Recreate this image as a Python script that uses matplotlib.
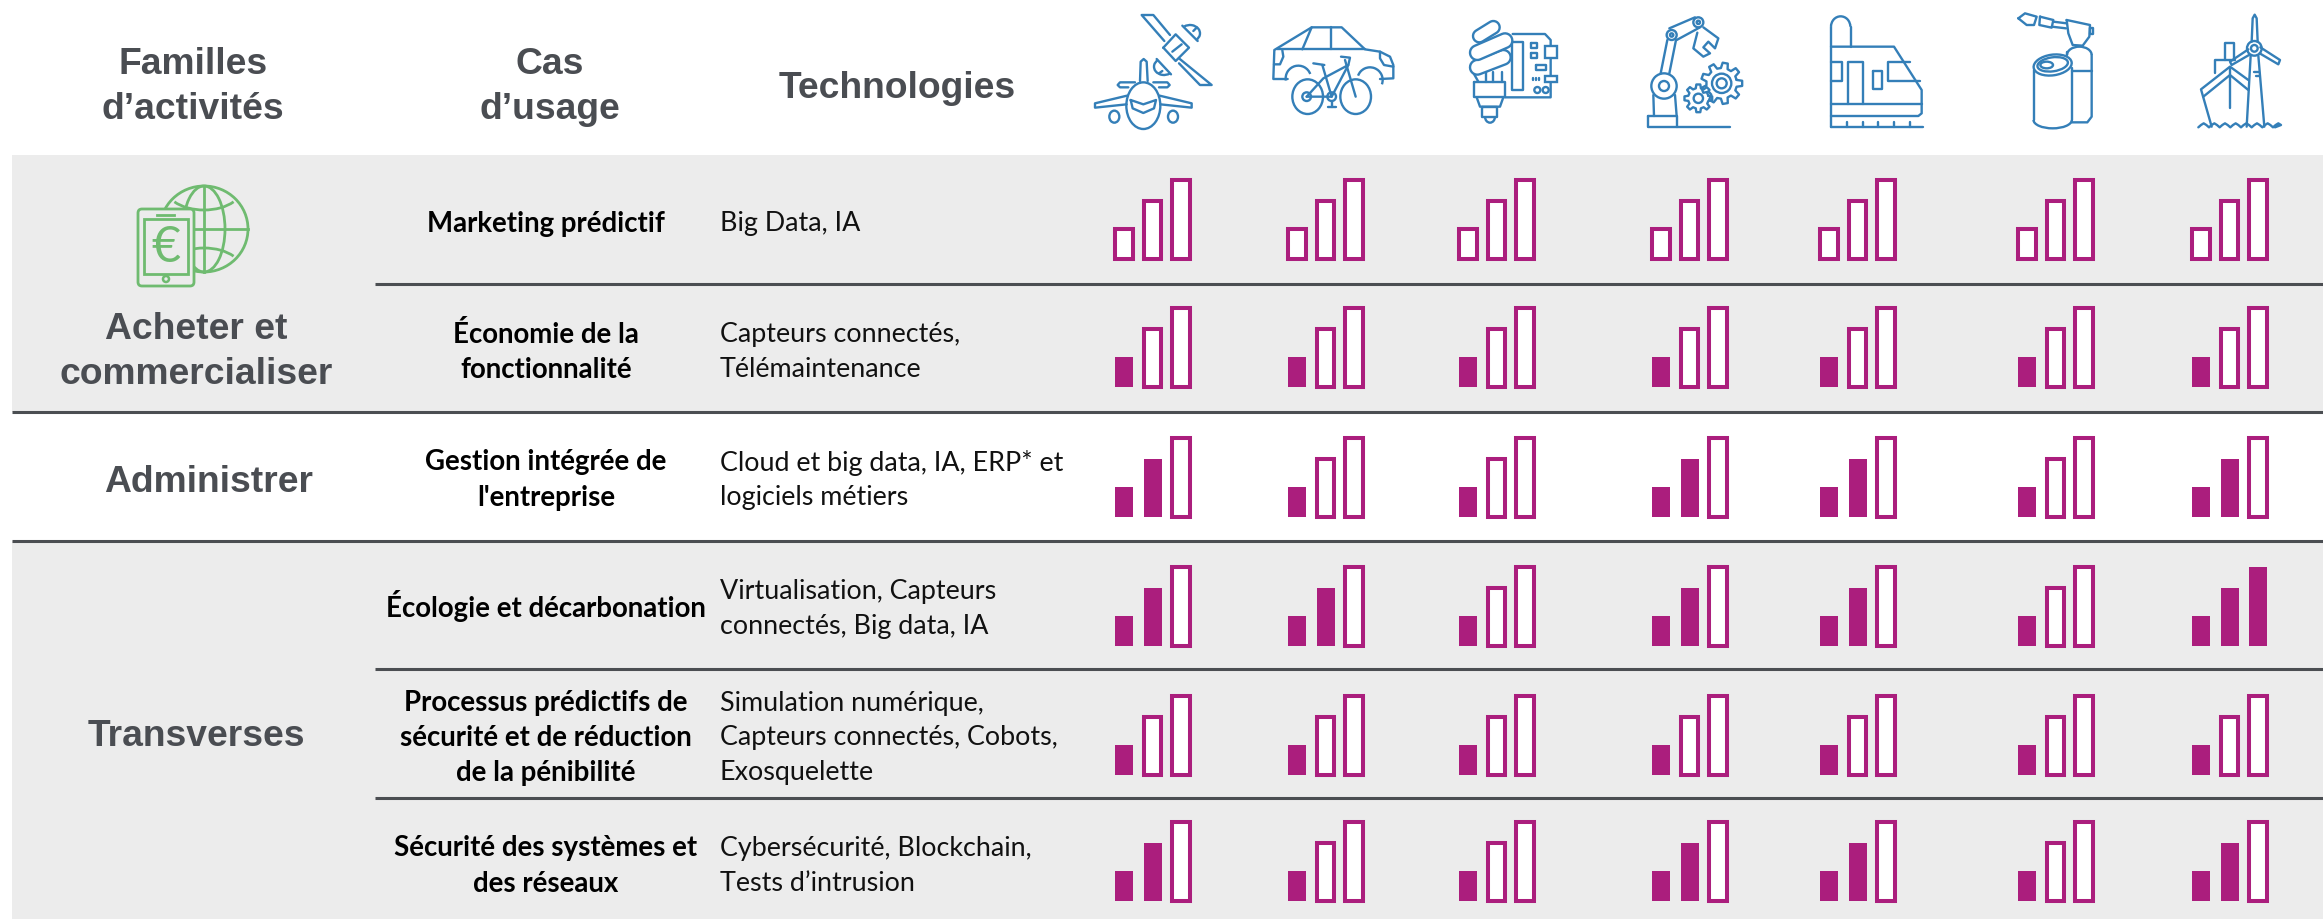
import numpy as np
import matplotlib
matplotlib.use('Agg')
import matplotlib.pyplot as plt
from matplotlib.patches import Rectangle, Ellipse, Polygon, Arc, FancyBboxPatch

# table content
familles = ["Acheter et\ncommercialiser", "Administrer", "Transverses"]
cas_usage = ["Marketing prédictif",
             "Économie de la\nfonctionnalité",
             "Gestion intégrée de\nl'entreprise",
             "Écologie et décarbonation",
             "Processus prédictifs de\nsécurité et de réduction\nde la pénibilité",
             "Sécurité des systèmes et\ndes réseaux"]
technos = ["Big Data, IA",
           "Capteurs connectés,\nTélémaintenance",
           "Cloud et big data, IA, ERP* et\nlogiciels métiers",
           "Virtualisation, Capteurs\nconnectés, Big data, IA",
           "Simulation numérique,\nCapteurs connectés, Cobots,\nExosquelette",
           "Cybersécurité, Blockchain,\nTests d’intrusion"]
# number of filled bars, one list per use case, one value per sector
marketing = [0, 0, 0, 0, 0, 0, 0]
economie = [1, 1, 1, 1, 1, 1, 1]
gestion = [2, 1, 1, 2, 2, 1, 2]
ecologie = [2, 2, 1, 2, 2, 1, 3]
processus = [1, 1, 1, 1, 1, 1, 1]
securite = [2, 1, 1, 2, 2, 1, 2]
niveaux = [marketing, economie, gestion, ecologie, processus, securite]

# geometry, in pixels of the reference
bar_h = [30, 58, 79]
col_x = [1124, 1297, 1468, 1661, 1829, 2027, 2201]
row_base = [259, 387, 517, 646, 775, 901]
case_y = [224, 352, 480, 606, 738, 866]
tech_y = [224, 352, 480, 609, 738, 866]

GRIS = '#ececec'
TRAIT = '#4b4e52'
TXT = '#4a4d52'
MAUVE = '#ab1e7d'
BLEU = '#347fb8'
VERT = '#6fbb70'

fig = plt.figure(figsize=(23.23, 9.19), dpi=100)
ax = fig.add_axes([0, 0, 1, 1])
ax.set_xlim(0, 2323)
ax.set_ylim(919, 0)
ax.axis('off')

ax.add_patch(Rectangle((12, 155), 2311, 257, fc=GRIS, ec='none', zorder=0))
ax.add_patch(Rectangle((12, 541), 2311, 378, fc=GRIS, ec='none', zorder=0))
for x0, y in [(375, 284), (12, 412), (12, 541), (375, 669), (375, 798)]:
    ax.plot([x0, 2323], [y, y], color=TRAIT, lw=2.2, solid_capstyle='butt', zorder=1)

# headers
hfont = dict(family='Liberation Sans', weight='bold', color=TXT, ha='center', va='center')
ax.text(193, 87, "Familles\nd’activités", fontsize=26.8, linespacing=1.34, **hfont)
ax.text(550, 87, "Cas\nd’usage", fontsize=26.8, linespacing=1.34, **hfont)
ax.text(897, 88, "Technologies", fontsize=26.8, **hfont)
ax.text(196, 352, familles[0], fontsize=26.8, linespacing=1.34, **hfont)
ax.text(209, 482, familles[1], fontsize=26.8, **hfont)
ax.text(196, 737, familles[2], fontsize=26.8, **hfont)

for i in range(6):
    ax.text(546, case_y[i], cas_usage[i], family='Lato', weight='bold', fontsize=19.9, color='black',
            ha='center', va='center', linespacing=1.44)
    ax.text(720, tech_y[i], technos[i], family='Lato', fontsize=19.4, color='#111111',
            ha='left', va='center', linespacing=1.48)

# gauges
for i, niv in enumerate(niveaux):
    for j, n in enumerate(niv):
        for k in range(3):
            x = col_x[j] + 28.6 * k
            if k < n:
                ax.bar(x, bar_h[k], width=18, bottom=row_base[i] - bar_h[k], color=MAUVE, zorder=3)
            else:
                ax.bar(x, bar_h[k], width=17.5, bottom=row_base[i] - bar_h[k], color='white',
                       edgecolor=MAUVE, linewidth=2.9, zorder=3)


# pictograms: points are given in crop pixels (3x) from an origin
def make_icon(ox, oy, col=BLEU, lw=1.7):
    def pt(p):
        return ox + p[0] / 3, oy + p[1] / 3

    def line(*pts, close=False):
        xy = [pt(p) for p in pts]
        if close:
            xy.append(xy[0])
        ax.plot([q[0] for q in xy], [q[1] for q in xy], color=col, lw=lw,
                solid_joinstyle='round', solid_capstyle='round', zorder=4)

    def ell(cx, cy, w, h=None, ang=0, fill='none', z=4):
        h = w if h is None else h
        ax.add_patch(Ellipse(pt((cx, cy)), w / 3, h / 3, angle=ang, fc=fill, ec=col, lw=lw, zorder=z))

    def arc(cx, cy, w, h, a0, a1):
        ax.add_patch(Arc(pt((cx, cy)), w / 3, h / 3, theta1=a0, theta2=a1, ec=col, lw=lw, zorder=4))

    def box(x0, y0, x1, y1):
        line((x0, y0), (x1, y0), (x1, y1), (x0, y1), close=True)

    def capsule(xa, ya, xb, yb, th):
        # rounded sausage between two end centres, white inside
        a = np.arctan2(yb - ya, xb - xa)
        t1 = np.linspace(a + np.pi / 2, a + 3 * np.pi / 2, 14)
        t2 = np.linspace(a - np.pi / 2, a + np.pi / 2, 14)
        px = np.r_[xa + th / 2 * np.cos(t1), xb + th / 2 * np.cos(t2)]
        py = np.r_[ya + th / 2 * np.sin(t1), yb + th / 2 * np.sin(t2)]
        ax.add_patch(Polygon(np.c_[ox + px / 3, oy + py / 3], closed=True, fc='white', ec=col, lw=lw, zorder=5))

    return line, ell, arc, box, capsule


def gear(line, cx, cy, r_out, r_in, n):
    t = []
    for i in range(n):
        a = 2 * np.pi * i / n
        da = 2 * np.pi / n
        for f, r in [(-.32, r_in), (-.18, r_out), (.18, r_out), (.32, r_in)]:
            t.append((cx + r * np.cos(a + f * da), cy + r * np.sin(a + f * da)))
    line(*t, close=True)


# plane and satellite
line, ell, arc, box, capsule = make_icon(1085, 5)
line((238, 108), (170, 30), (205, 30), (255, 90))
line((235, 128), (272, 88), (312, 128), (272, 168), close=True)
line((292, 62), (338, 108))
arc(315, 85, 60, 50, 230, 50)
line((325, 78), (335, 68))
line((215, 162), (258, 208))
arc(237, 185, 60, 50, 50, 230)
line((232, 198), (222, 205))
line((282, 160), (380, 240), (345, 240), (282, 175))
line((262, 140), (290, 118))
ell(175, 302, 102, 140)
line((165, 228), (167, 170), (176, 162), (185, 170), (188, 228))
line((150, 232), (105, 232), (98, 240), (105, 247), (130, 247))
line((205, 232), (247, 232), (254, 240), (247, 247), (222, 247))
line((126, 272), (30, 295), (30, 308), (125, 298))
line((224, 272), (320, 295), (320, 308), (226, 298))
ell(88, 335, 30, 36)
ell(264, 335, 30, 36)
line((137, 285), (175, 298), (213, 285), (207, 310), (175, 324), (143, 310), close=True)

# car and bike
line, ell, arc, box, capsule = make_icon(1265, 15)
line((68, 192), (25, 192), (28, 105), (140, 37), (230, 37), (300, 103), (345, 110), (375, 125), (385, 150), (385, 190), (345, 192))
line((35, 103), (300, 103))
line((140, 37), (112, 103))
line((197, 37), (197, 103))
line((27, 148), (45, 148), (55, 125), (52, 106))
line((345, 110), (345, 130), (357, 150), (385, 155))
arc(100, 190, 76, 76, 170, 340)
arc(315, 195, 76, 76, 200, 20)
ell(128, 245, 92, 104, fill='white')
ell(272, 245, 92, 104, fill='white')
ell(125, 245, 26)
ell(200, 245, 26)
line((125, 245), (200, 245), (172, 150))
line((125, 245), (175, 190), (250, 150), (200, 245))
line((240, 135), (272, 245))
line((228, 125), (255, 128), (250, 150))
line((145, 145), (178, 150))
line((200, 258), (200, 275))
line((190, 275), (212, 275))

# bulb and circuit
line, ell, arc, box, capsule = make_icon(1460, 10)
line((158, 72), (255, 72), (272, 90), (272, 262), (135, 262))
box(157, 95, 190, 240)
box(212, 100, 230, 115)
box(212, 128, 230, 143)
ax.add_patch(Rectangle((1460 + 255 / 3, 10 + 108 / 3), 37 / 3, 37 / 3, fc='white', ec=BLEU, lw=1.7, zorder=4))
ax.add_patch(Rectangle((1460 + 255 / 3, 10 + 198 / 3), 37 / 3, 17 / 3, fc='white', ec=BLEU, lw=1.7, zorder=4))
box(228, 165, 258, 180)
for xd in [220, 228, 236]:
    line((xd, 203), (xd, 210))
ell(232, 240, 18)
ell(257, 240, 18)
capsule(52, 172, 130, 142, 44)
capsule(52, 128, 135, 92, 44)
capsule(58, 78, 100, 52, 38)
for xs in [78, 100, 125]:
    line((xs, 185), (xs, 215))
line((42, 192), (55, 215))
box(42, 215, 135, 262)
line((50, 262), (60, 290), (120, 290), (130, 262))
box(65, 290, 112, 320)
arc(90, 320, 30, 36, 0, 180)

# robot arm and gears
line, ell, arc, box, capsule = make_icon(1640, 10)
box(25, 318, 110, 350)
line((110, 350), (270, 350))
line((40, 255), (42, 318))
line((105, 255), (110, 318))
ell(72, 228, 76)
ell(72, 228, 30)
line((62, 190), (82, 90))
line((88, 190), (108, 90))
ell(95, 75, 30)
ell(95, 75, 10)
line((88, 55), (165, 22))
line((110, 90), (180, 52))
ell(175, 37, 30)
ell(175, 37, 10)
line((172, 68), (160, 115), (190, 140), (210, 130), (190, 112), (205, 95), (225, 115), (235, 85), (190, 52))
gear(line, 245, 220, 62, 46, 9)
ell(245, 220, 58)
ell(245, 220, 30)
gear(line, 175, 265, 42, 31, 8)
ell(175, 265, 28)

# train
line, ell, arc, box, capsule = make_icon(1820, 10)
line((33, 350), (33, 50))
arc(62, 50, 58, 62, 180, 0)
line((92, 50), (92, 110))
line((33, 110), (222, 110), (305, 240), (305, 310), (295, 318), (33, 318))
line((33, 283), (305, 283))
line((33, 350), (310, 350))
for xt in [80, 128, 175, 222, 270]:
    line((xt, 335), (xt, 350))
line((33, 157), (65, 157), (65, 212), (33, 212))
line((83, 283), (83, 157), (130, 157), (130, 283))
box(158, 182, 186, 238)
line((270, 157), (205, 157), (205, 212), (300, 212))

# torch and can
line, ell, arc, box, capsule = make_icon(2010, 5)
line((25, 40), (45, 25), (80, 35), (72, 60), (50, 60), close=True)
line((90, 35), (130, 45), (125, 68), (88, 60), close=True)
line((130, 50), (170, 55))
line((125, 65), (168, 70))
line((170, 45), (240, 60), (238, 95), (218, 122), (188, 120), (175, 85), close=True)
box(240, 68, 250, 88)
line((172, 140), (172, 150))
arc(208, 150, 74, 50, 180, 0)
line((245, 150), (245, 335), (232, 352), (185, 352))
line((185, 198), (245, 198))
line((72, 195), (72, 345))
line((185, 190), (185, 345))
ell(128, 180, 115, 62, ang=-8, fill='white')
ell(128, 178, 92, 42, ang=-8)
ell(110, 180, 38, 20)
arc(128, 345, 115, 50, 0, 180)

# ship and wind turbine
line, ell, arc, box, capsule = make_icon(2185, 10)
line((200, 95), (203, 25), (209, 14), (215, 25), (218, 95))
line((226, 112), (285, 150), (280, 163), (224, 130))
line((190, 118), (135, 155), (140, 165), (192, 135))
ell(208, 115, 44)
ell(208, 115, 20)
line((197, 137), (185, 350))
line((220, 137), (238, 350))
line((208, 185), (222, 185))
line((212, 198), (222, 198))
line((120, 150), (120, 100), (148, 100), (148, 150))
line((90, 190), (90, 150), (150, 150))
line((190, 210), (135, 170), (48, 238), (80, 350))
line((190, 240), (135, 195), (55, 260))
line((135, 170), (135, 295))
wave = []
for xw in range(40, 270, 32):
    wave += [(xw, 352), (xw + 8, 345), (xw + 16, 340), (xw + 24, 345)]
wave.append((270, 352))
line(*wave)

# globe and phone
ax.add_patch(Ellipse((204, 229), 88, 86, fc='none', ec=VERT, lw=2, zorder=4))
ax.add_patch(Ellipse((204, 229), 42, 86, fc='none', ec=VERT, lw=2, zorder=4))
ax.plot([204, 204], [186, 272], color=VERT, lw=2, zorder=4)
ax.plot([160, 248], [229, 229], color=VERT, lw=2, zorder=4)
ax.add_patch(Arc((204, 188), 76, 44, theta1=25, theta2=155, ec=VERT, lw=2, zorder=4))
ax.add_patch(Arc((204, 270), 76, 44, theta1=205, theta2=335, ec=VERT, lw=2, zorder=4))
ax.add_patch(FancyBboxPatch((140, 211), 52, 73, boxstyle='round,pad=2,rounding_size=4', fc=GRIS, ec=VERT, lw=2, zorder=5))
ax.add_patch(Rectangle((144, 219), 44, 55, fc=GRIS, ec=VERT, lw=2, zorder=5))
ax.plot([157, 174], [215, 215], color=VERT, lw=2, zorder=5)
ax.add_patch(Ellipse((166, 279), 6, 6, fc='none', ec=VERT, lw=1.8, zorder=5))
ax.text(166, 248, "€", family='Lato', fontsize=36, color=VERT, ha='center', va='center', zorder=6)

plt.savefig("out.png", dpi=100)
